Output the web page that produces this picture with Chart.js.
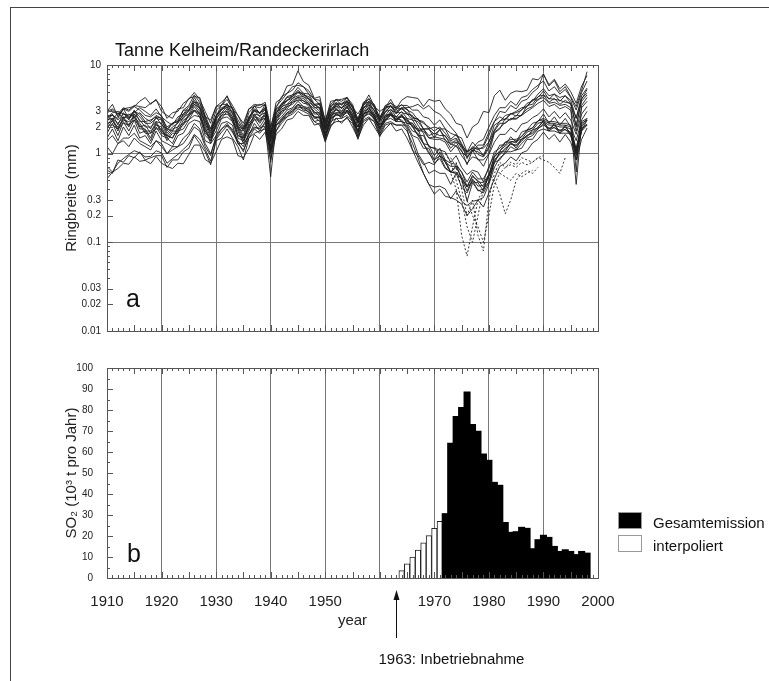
<!DOCTYPE html>
<html>
<head>
<meta charset="utf-8">
<title>Tanne Kelheim/Randeckerirlach</title>
<script src="https://cdn.jsdelivr.net/npm/chart.js@4.4.0/dist/chart.umd.min.js"></script>
<style>
    body { margin: 0; background: #fff; }
    #wrap { position: relative; width: 769px; height: 681px; overflow: hidden; }
    #frame { position: absolute; left: 10px; top: 7px; width: 770px; height: 690px;
             border-top: 1.5px solid #444; border-left: 1.5px solid #444; }
    canvas { position: absolute; left: 0; }
    #ringChart { top: 0; }
    #so2Chart { top: 340px; }
</style>
</head>
<body>
<div id="wrap">
    <div id="frame"></div>
    <canvas id="ringChart" width="769" height="345" style="width:769px;height:345px"></canvas>
    <canvas id="so2Chart" width="769" height="341" style="width:769px;height:341px"></canvas>
</div>
<script>
// ---- Daten: Jahrringbreiten (mm), 1910-1998, eine Reihe pro Baum ----
const ringYears = [];
for (let y = 1910; y <= 1998; y++) ringYears.push(y);

const tree01 = [
    3.0, 3.6, 2.6, 3.2, 3.3, 3.4, 3.9, 4.3, 3.6, 4.1,
    3.0, 2.7, 2.5, 3.2, 3.3, 4.2, 4.4, 4.3, 2.6, 2.4,
    3.4, 3.5, 4.5, 3.2, 2.7, 2.0, 3.2, 3.4, 3.6, 3.5,
    1.9, 3.8, 4.2, 5.8, 6.0, 8.6, 6.5, 5.9, 4.2, 4.4,
    2.3, 3.9, 4.0, 4.1, 4.3, 3.3, 2.8, 3.6, 4.6, 3.4,
    3.0, 3.3, 4.1, 3.2, 4.0, 4.4, 4.3, 4.2, 3.4, 4.1,
    3.9, 4.0, 3.2, 2.8, 2.2, 2.1, 1.5, 2.0, 2.2, 3.0,
    2.9, 4.5, 5.2, 4.0, 4.8, 5.1, 5.0, 5.2, 7.0, 6.8,
    7.9, 5.8, 6.7, 5.0, 5.7, 4.4, 3.4, 5.2, 8.4
];
const tree02 = [
    2.7, 2.7, 2.5, 3.2, 2.5, 3.0, 2.8, 2.3, 2.4, 2.6,
    2.5, 1.8, 2.2, 2.3, 3.1, 3.1, 4.3, 3.4, 2.6, 1.7,
    2.6, 3.6, 3.6, 3.2, 2.0, 1.9, 2.4, 3.5, 2.8, 3.6,
    1.5, 3.2, 3.6, 4.4, 4.6, 5.6, 4.8, 4.7, 3.6, 3.7,
    2.0, 3.5, 3.7, 3.7, 3.9, 3.5, 2.2, 3.7, 3.8, 3.5,
    2.3, 3.4, 3.4, 3.3, 3.2, 3.2, 2.5, 2.5, 1.9, 1.9,
    1.5, 1.9, 1.4, 1.3, 1.2, 1.1, 0.75, 1.1, 0.85, 0.85,
    1.0, 1.7, 1.9, 2.5, 2.4, 2.7, 2.7, 3.5, 3.6, 4.4,
    4.6, 4.2, 4.1, 4.0, 3.8, 3.7, 2.0, 4.2, 4.8
];
const tree03 = [
    1.9, 2.4, 1.8, 2.5, 2.0, 2.6, 1.9, 1.9, 1.5, 2.2,
    1.7, 1.6, 1.5, 1.9, 2.1, 2.7, 3.0, 2.8, 1.7, 1.5,
    2.0, 2.7, 2.8, 2.5, 1.6, 1.5, 1.9, 2.7, 2.2, 2.7,
    1.2, 2.5, 2.8, 3.4, 3.6, 4.2, 3.7, 3.6, 2.8, 2.8,
    1.6, 2.7, 2.9, 2.9, 3.1, 2.7, 1.7, 2.8, 3.0, 2.7,
    1.8, 2.6, 2.7, 2.5, 2.4, 2.0, 1.5, 1.0, 0.8, 0.6,
    0.65, 0.6, 0.6, 0.45, 0.6, 0.42, 0.36, 0.5, 0.38, 0.4,
    0.48, 0.8, 0.85, 1.05, 1.05, 1.1, 1.15, 1.45, 1.45, 1.8,
    1.9, 1.8, 1.8, 1.7, 1.7, 1.7, 0.85, 1.9, 2.1
];
const tree04 = [
    0.65, 0.6, 0.85, 0.8, 0.95, 0.9, 1.05, 0.85, 0.9, 0.95,
    0.95, 0.7, 0.85, 0.85, 1.05, 1.15, 1.6, 1.3, 1.05, 0.75,
    1.4, 1.5, 1.9, 1.5, 1.2, 0.85, 1.5, 1.7, 1.8, 1.9,
    1.05, 1.8, 2.4, 2.6, 3.1, 3.3, 3.3, 2.9, 2.6, 2.3,
    1.6, 2.2, 2.9, 2.5, 3.1, 2.3, 1.8, 2.5, 3.1, 2.4,
    2.0, 2.3, 2.8, 2.3, 2.7, 2.2, 2.1, 1.6, 1.6, 1.2,
    1.15, 1.1, 1.05, 0.8, 0.95, 0.7, 0.58, 0.65, 0.62, 0.48,
    0.72, 0.95, 1.25, 1.25, 1.55, 1.35, 1.75, 1.85, 2.2, 2.3,
    2.8, 2.2, 2.6, 2.1, 2.5, 2.0, 1.4, 2.4, 3.0
];
const tree05 = [
    0.52, 0.62, 0.68, 0.78, 0.76, 0.92, 0.82, 0.84, 0.77, 0.93,
    0.78, 0.72, 0.68, 0.78, 0.77, 0.98, 1.25, 1.25, 0.86, 0.78,
    1.05, 1.45, 1.55, 1.45, 0.95, 0.9, 1.15, 1.65, 1.45, 1.75,
    0.85, 1.65, 1.9, 2.4, 2.5, 3.0, 2.7, 2.7, 2.1, 2.2,
    1.35, 2.1, 2.3, 2.3, 2.5, 2.2, 1.45, 2.3, 2.5, 2.3,
    1.55, 2.1, 2.2, 2.1, 2.1, 1.8, 1.3, 0.9, 0.6, 0.45,
    0.42, 0.43, 0.4, 0.31, 0.38, 0.29, 0.26, 0.29, 0.3, 0.25,
    0.36, 0.52, 0.72, 0.78, 0.92, 0.83, 1.02, 1.08, 1.32, 1.45,
    1.75, 1.45, 1.65, 1.35, 1.65, 1.35, 0.85, 1.45, 1.95
];
const tree06 = [
    0.72, 0.62, 0.78, 0.88, 0.98, 1.08, 1.02, 0.92, 0.93, 1.08,
    1.02, 0.78, 0.88, 0.98, 1.12, 1.28, 1.65, 1.45, 1.12, 0.82,
    1.45, 1.75, 2.05, 1.75, 1.35, 1.05, 1.65, 1.95, 1.95, 2.05,
    0.55, 2.1, 2.4, 2.9, 3.0, 3.6, 3.2, 3.2, 2.5, 2.6,
    1.55, 2.5, 2.8, 2.8, 3.0, 2.6, 1.75, 2.8, 3.0, 2.7,
    1.9, 2.7, 2.8, 2.6, 2.3, 1.9, 1.1, 0.95, 0.75, 0.8,
    0.75, 0.95, 0.7, 0.62, 0.62, 0.52, 0.38, 0.52, 0.43, 0.44,
    0.58, 0.92, 1.08, 1.22, 1.38, 1.32, 1.58, 1.82, 1.95, 2.35,
    2.5, 2.3, 2.3, 2.2, 2.2, 2.1, 0.45, 2.1, 2.5
];
const tree07 = [
    2.9, 3.1, 2.7, 3.2, 3.0, 3.4, 3.1, 2.7, 2.6, 2.9,
    2.7, 1.9, 2.2, 2.4, 3.1, 3.5, 4.6, 3.8, 2.7, 1.9,
    3.1, 3.5, 4.1, 3.2, 2.4, 1.9, 2.9, 3.4, 3.3, 3.6,
    1.7, 3.4, 4.0, 4.8, 5.2, 6.3, 5.7, 5.1, 4.1, 4.0,
    2.3, 3.6, 4.1, 3.9, 4.3, 3.6, 2.4, 3.8, 4.1, 3.6,
    2.5, 3.5, 3.7, 3.4, 3.5, 3.5, 3.1, 3.1, 2.6, 2.5,
    2.1, 2.4, 1.9, 1.7, 1.6, 1.5, 1.05, 1.35, 1.15, 1.15,
    1.35, 2.1, 2.3, 2.7, 2.8, 2.9, 3.1, 3.7, 3.9, 4.7,
    5.4, 4.5, 4.7, 4.3, 4.5, 4.0, 2.5, 4.5, 5.5
];
const tree08 = [
    2.4, 2.5, 2.2, 2.6, 2.5, 2.8, 2.4, 2.0, 2.0, 2.3,
    2.2, 1.6, 1.9, 2.0, 2.6, 2.8, 3.6, 3.0, 2.2, 1.5,
    2.5, 2.9, 3.4, 2.6, 2.0, 1.5, 2.4, 2.8, 2.7, 2.9,
    1.6, 2.6, 3.4, 3.6, 4.2, 4.5, 4.4, 3.8, 3.4, 3.0,
    2.1, 2.8, 3.5, 3.0, 3.7, 2.8, 2.2, 3.0, 3.6, 2.8,
    2.3, 2.7, 3.2, 2.6, 3.0, 2.5, 2.4, 1.9, 1.9, 1.5,
    1.45, 1.45, 1.35, 1.05, 1.25, 0.95, 0.78, 0.92, 0.88, 0.72,
    0.98, 1.35, 1.65, 1.65, 1.95, 1.75, 2.15, 2.25, 2.55, 2.75,
    3.2, 2.6, 3.0, 2.5, 2.9, 2.4, 1.65, 2.8, 3.4
];
const tree09 = [
    1.7, 2.2, 1.6, 2.3, 1.8, 2.4, 1.7, 1.8, 1.4, 2.0,
    1.6, 1.5, 1.3, 1.8, 1.9, 2.4, 2.7, 2.6, 1.6, 1.4,
    1.8, 2.5, 2.6, 2.3, 1.5, 1.4, 1.8, 2.5, 2.0, 2.5,
    1.15, 2.3, 2.6, 3.1, 3.3, 3.9, 3.4, 3.3, 2.6, 2.6,
    1.5, 2.5, 2.7, 2.7, 2.9, 2.5, 1.6, 2.6, 2.8, 2.5,
    1.7, 2.4, 2.5, 2.3, 2.3, 2.2, 1.8, 1.7, 1.3, 1.25,
    0.95, 1.15, 0.85, 0.78, 0.76, 0.62, 0.43, 0.57, 0.48, 0.47,
    0.58, 0.92, 1.05, 1.35, 1.45, 1.45, 1.55, 1.85, 1.95, 2.35,
    2.4, 2.2, 2.2, 2.1, 2.1, 2.0, 1.05, 2.3, 2.5
];
const tree10 = [
    2.2, 2.3, 2.0, 2.4, 2.3, 2.6, 2.2, 1.8, 1.8, 2.1,
    2.0, 1.5, 1.8, 1.8, 2.4, 2.6, 3.4, 2.8, 2.0, 1.4,
    2.3, 2.7, 3.2, 2.4, 1.9, 1.4, 2.2, 2.6, 2.5, 2.7,
    1.45, 2.4, 3.2, 3.4, 4.0, 4.3, 4.2, 3.6, 3.2, 2.8,
    1.9, 2.6, 3.3, 2.8, 3.5, 2.6, 2.0, 2.8, 3.4, 2.6,
    2.1, 2.5, 3.0, 2.4, 2.8, 2.3, 2.2, 1.8, 1.9, 1.6,
    1.7, 1.6, 1.6, 1.25, 1.45, 1.15, 1.05, 1.15, 1.35, 1.45,
    2.0, 2.7, 3.3, 3.3, 3.9, 3.5, 4.3, 4.5, 5.3, 5.9,
    6.6, 5.1, 5.7, 4.7, 5.3, 4.3, 3.1, 4.9, 6.6
];
const tree11 = [
    2.6, 2.7, 2.4, 2.8, 2.7, 3.0, 2.6, 2.2, 2.2, 2.5,
    2.4, 1.7, 2.0, 2.2, 2.8, 3.1, 4.0, 3.3, 2.4, 1.6,
    2.7, 3.1, 3.7, 2.8, 2.1, 1.6, 2.6, 3.0, 2.9, 3.1,
    1.7, 2.8, 3.7, 3.9, 4.6, 4.9, 4.8, 4.1, 3.6, 3.2,
    2.2, 3.0, 3.8, 3.2, 4.0, 3.0, 2.3, 3.2, 3.9, 3.0,
    2.4, 2.9, 3.5, 2.8, 3.3, 2.8, 2.7, 2.1, 1.7, 1.2,
    1.15, 0.95, 0.85, 0.62, 0.73, 0.52, 0.42, 0.48, 0.47, 0.38,
    0.57, 0.78, 1.05, 1.05, 1.35, 1.15, 1.45, 1.55, 1.85, 1.95,
    2.4, 1.8, 2.2, 1.7, 2.1, 1.6, 1.05, 1.8, 2.4
];
const tree12 = [
    2.3, 2.8, 2.1, 2.9, 2.4, 3.1, 2.3, 2.3, 1.9, 2.6,
    2.1, 1.9, 1.8, 2.3, 2.5, 3.1, 3.6, 3.3, 2.1, 1.8,
    2.4, 3.2, 3.3, 2.9, 1.9, 1.8, 2.3, 3.1, 2.6, 3.2,
    1.4, 2.9, 3.3, 4.0, 4.2, 4.9, 4.4, 4.1, 3.3, 3.3,
    1.9, 3.1, 3.4, 3.3, 3.6, 3.1, 2.0, 3.3, 3.5, 3.1,
    2.1, 3.0, 3.1, 2.9, 2.9, 2.8, 2.4, 2.3, 1.9, 1.9,
    1.65, 1.85, 1.55, 1.35, 1.35, 1.25, 0.88, 1.15, 0.98, 0.92,
    1.15, 1.75, 1.95, 2.25, 2.45, 2.45, 2.75, 3.2, 3.4, 4.1,
    4.3, 3.7, 3.8, 3.5, 3.6, 3.3, 0.62, 3.5, 4.3
];
const tree13 = [
    1.5, 1.9, 1.4, 2.0, 1.6, 2.1, 1.5, 1.6, 1.3, 1.8,
    1.4, 1.3, 1.2, 1.6, 1.7, 2.2, 2.4, 2.3, 1.4, 1.3,
    1.6, 2.2, 2.3, 2.1, 1.3, 1.3, 1.6, 2.2, 1.8, 2.3,
    1.05, 2.1, 2.3, 2.8, 2.9, 3.5, 3.1, 3.0, 2.3, 2.4,
    1.45, 2.3, 2.5, 2.5, 2.7, 2.3, 1.55, 2.4, 2.6, 2.3,
    1.65, 2.2, 2.3, 2.1, 2.1, 2.1, 1.6, 1.5, 1.15, 1.15,
    0.85, 1.05, 0.8, 0.72, 0.72, 0.62, 0.48, 0.62, 0.52, 0.52,
    0.68, 1.05, 1.15, 1.35, 1.35, 1.4, 1.45, 1.75, 1.85, 2.2,
    2.3, 2.1, 2.1, 2.0, 2.0, 1.9, 1.15, 2.2, 2.4
];
const tree14 = [
    3.0, 3.2, 2.8, 3.3, 3.1, 3.5, 3.4, 3.3, 3.7, 4.0,
    3.4, 2.5, 2.9, 3.0, 3.7, 4.1, 4.9, 4.1, 3.0, 2.2,
    3.4, 3.8, 4.4, 3.5, 2.7, 2.2, 3.2, 3.6, 3.5, 3.8,
    2.0, 3.3, 4.4, 4.8, 5.7, 5.9, 5.7, 4.7, 4.1, 3.6,
    2.4, 3.3, 4.1, 3.5, 4.3, 3.3, 2.5, 3.5, 4.2, 3.3,
    2.6, 3.2, 3.8, 3.1, 3.6, 3.1, 2.9, 2.4, 2.3, 1.9,
    2.0, 1.9, 1.9, 1.45, 1.65, 1.25, 1.05, 1.15, 1.15, 0.95,
    1.35, 1.85, 2.35, 2.45, 2.85, 2.65, 3.15, 3.4, 4.0, 4.3,
    5.1, 4.1, 4.7, 3.9, 4.5, 3.7, 2.5, 4.1, 5.3
];
const tree15 = [
    2.1, 2.5, 1.9, 2.6, 2.1, 2.8, 2.0, 2.1, 1.7, 2.3,
    1.8, 1.6, 1.5, 2.0, 2.2, 2.8, 3.1, 2.9, 1.8, 1.5,
    2.1, 2.9, 3.0, 2.6, 1.6, 1.5, 2.0, 2.8, 2.3, 2.9,
    0.8, 2.6, 3.0, 3.6, 3.8, 4.4, 3.9, 3.7, 2.9, 2.9,
    1.7, 2.8, 3.1, 3.0, 3.3, 2.8, 1.8, 3.0, 3.2, 2.8,
    1.9, 2.7, 2.8, 2.6, 2.6, 2.5, 2.0, 1.9, 1.3, 1.05,
    0.78, 0.88, 0.68, 0.62, 0.6, 0.52, 0.29, 0.47, 0.39, 0.36,
    0.48, 0.82, 0.98, 1.12, 1.28, 1.22, 1.38, 1.62, 1.68, 1.92,
    2.1, 1.95, 1.95, 1.85, 1.85, 1.75, 0.95, 1.95, 2.15
];
const tree16 = [
    2.1, 2.1, 1.9, 2.2, 2.1, 2.4, 2.1, 1.7, 1.7, 1.9,
    1.9, 1.4, 1.7, 1.7, 2.2, 2.4, 3.1, 2.6, 1.9, 1.3,
    2.2, 2.5, 3.0, 2.3, 1.8, 1.3, 2.1, 2.4, 2.4, 2.5,
    1.35, 2.2, 3.0, 3.2, 3.8, 4.0, 4.0, 3.4, 3.0, 2.6,
    1.85, 2.5, 3.2, 2.7, 3.4, 2.5, 2.0, 2.7, 3.3, 2.5,
    2.1, 2.4, 2.9, 2.3, 2.7, 2.2, 2.2, 1.8, 1.8, 1.5,
    1.55, 1.5, 1.45, 1.15, 1.35, 1.05, 0.92, 1.05, 1.25, 1.25,
    1.75, 2.3, 3.0, 2.9, 3.5, 3.2, 3.9, 4.1, 4.9, 5.5,
    7.9, 6.0, 6.9, 5.4, 6.1, 5.0, 3.7, 5.8, 7.6
];
const tree17 = [
    1.4, 1.6, 1.3, 1.5, 1.5, 1.7, 1.4, 1.3, 1.2, 1.4,
    1.3, 1.0, 1.2, 1.2, 1.5, 1.7, 2.2, 1.9, 1.3, 1.0,
    1.5, 1.9, 2.2, 1.8, 1.3, 1.1, 1.5, 1.9, 1.7, 2.0,
    1.0, 1.8, 2.2, 2.6, 2.8, 3.2, 3.0, 2.8, 2.3, 2.1,
    1.4, 2.0, 2.5, 2.2, 2.6, 2.0, 1.5, 2.1, 2.5, 2.0,
    1.6, 1.9, 2.2, 1.8, 1.9, 1.5, 1.1, 0.8, 0.6, 0.45,
    0.35, 0.4, 0.33, 0.32, 0.3, 0.27, 0.2, 0.24, 0.3, 0.32,
    0.45, 0.7, 0.9, 1.0, 1.2, 1.1, 1.3, 1.5, 1.6, 1.9,
    2.2, 1.8, 2.0, 1.7, 1.9, 1.6, 1.0, 1.8, 2.1
];
const tree18 = [
    2.5, 2.9, 3.0, 2.8, 2.6, 2.9, 3.3, 3.0, 2.7, 3.2,
    2.6, 2.3, 2.1, 2.6, 2.8, 3.4, 3.8, 3.7, 2.5, 1.9,
    2.6, 3.3, 3.5, 3.3, 2.2, 1.9, 2.5, 3.2, 2.9, 3.3,
    1.6, 3.1, 3.5, 4.3, 4.4, 5.2, 4.6, 4.4, 3.5, 3.6,
    1.9, 3.2, 3.6, 3.6, 3.8, 3.4, 2.3, 3.5, 3.9, 3.4,
    2.4, 3.2, 3.5, 3.0, 3.3, 3.3, 3.4, 3.6, 3.2, 3.5,
    3.0, 2.8, 2.4, 2.0, 1.7, 1.3, 1.0, 1.2, 1.1, 1.2,
    1.6, 2.3, 2.6, 2.4, 2.8, 3.0, 3.3, 3.4, 4.1, 4.0,
    4.6, 3.8, 4.2, 3.6, 4.0, 3.6, 2.1, 3.9, 4.6
];
const tree19 = [
    1.2, 1.0, 1.3, 1.4, 1.2, 1.5, 1.3, 1.2, 1.1, 1.4,
    1.2, 1.0, 1.1, 1.2, 1.3, 1.6, 2.0, 1.8, 1.2, 0.95,
    1.6, 1.9, 2.1, 1.9, 1.4, 1.2, 1.7, 2.0, 1.9, 2.2,
    1.1, 2.1, 2.5, 2.9, 3.2, 3.6, 3.4, 3.1, 2.6, 2.5,
    1.7, 2.4, 2.8, 2.6, 3.0, 2.4, 1.8, 2.6, 2.9, 2.5,
    1.9, 2.4, 2.7, 2.4, 2.6, 2.4, 2.0, 1.6, 1.3, 1.0,
    0.85, 0.95, 0.8, 0.62, 0.7, 0.55, 0.42, 0.55, 0.5, 0.42,
    0.55, 0.85, 1.0, 1.15, 1.3, 1.25, 1.45, 1.6, 1.75, 2.0,
    2.3, 1.9, 2.1, 1.8, 2.0, 1.7, 1.1, 2.0, 2.4
];
const tree20 = [
    2.6, 2.4, 2.9, 2.5, 2.8, 2.6, 2.9, 2.5, 2.3, 2.7,
    2.5, 2.0, 2.2, 2.3, 2.7, 3.0, 3.8, 3.2, 2.3, 1.8,
    2.7, 3.1, 3.5, 3.0, 2.2, 1.8, 2.6, 3.1, 2.9, 3.3,
    1.7, 2.9, 3.5, 4.0, 4.4, 5.0, 4.6, 4.2, 3.6, 3.3,
    2.2, 3.0, 3.6, 3.3, 3.8, 3.1, 2.3, 3.3, 3.7, 3.1,
    2.5, 3.0, 3.4, 2.9, 3.2, 2.9, 2.6, 2.4, 2.2, 2.0,
    1.8, 2.0, 1.7, 1.4, 1.5, 1.2, 0.95, 1.1, 1.05, 0.95,
    1.2, 1.8, 2.2, 2.2, 2.5, 2.5, 2.7, 3.0, 3.3, 3.7,
    4.0, 3.4, 3.6, 3.2, 3.4, 3.1, 1.8, 3.3, 3.9
];
const ringTrees = [tree01, tree02, tree03, tree04, tree05, tree06, tree07, tree08, tree09, tree10,
                   tree11, tree12, tree13, tree14, tree15, tree16, tree17, tree18, tree19, tree20];

// gestrichelte Reihen (Bäume mit starkem Einbruch), mit Startjahr
const dashStart = [1970, 1972, 1973, 1974];
const dash01 = [1.2, 1.0, 0.8, 0.6, 0.4, 0.12, 0.07, 0.15, 0.3, 0.4, 0.55, 0.7, 0.6, 0.7, 0.8, 0.75, 0.9, 0.85, 0.8, 0.9, 0.95];
const dash02 = [1.0, 0.8, 0.5, 0.3, 0.15, 0.1, 0.2, 0.4, 0.6, 0.5, 0.35, 0.21, 0.3, 0.5, 0.6, 0.65, 0.6, 0.7];
const dash03 = [0.9, 0.7, 0.4, 0.2, 0.3, 0.12, 0.08, 0.3, 0.6, 0.8, 0.7, 0.75, 0.7, 0.8, 0.75, 0.8, 0.9, 0.85, 0.8, 0.7, 0.6, 0.9];
const dash04 = [0.8, 0.5, 0.3, 0.2, 0.15, 0.1, 0.2, 0.45, 0.6, 0.55, 0.5, 0.6, 0.55, 0.6, 0.65];
const ringDashed = [dash01, dash02, dash03, dash04];

const ringTickValues = [0.01, 0.02, 0.03, 0.1, 0.2, 0.3, 1, 2, 3, 10];

// ---- Daten: SO2-Emission (10^3 t pro Jahr) ----
const interpYears = [1964, 1965, 1966, 1967, 1968, 1969, 1970, 1971];
const so2Interp = [3.5, 6.7, 10, 13.3, 16.8, 20.2, 23.7, 27];
const totalYears = [1972, 1973, 1974, 1975, 1976, 1977, 1978, 1979, 1980, 1981,
                    1982, 1983, 1984, 1985, 1986, 1987, 1988, 1989, 1990, 1991,
                    1992, 1993, 1994, 1995, 1996, 1997, 1998];
const so2Total = [30.5, 64, 76.8, 81, 88.4, 72.9, 69.7, 58.9, 55.9, 45.4,
                  44, 26.3, 21.6, 21.9, 24, 23.5, 13.8, 18.1, 20.2, 19.2,
                  14.9, 12.5, 13.3, 12.5, 11, 12.5, 11.7];

const xLabels = [1910, 1920, 1930, 1940, 1950, 1970, 1980, 1990, 2000];

Chart.defaults.font.family = '"Liberation Sans", Arial, Helvetica, sans-serif';
Chart.defaults.color = '#222';

const FONT = '"Liberation Sans", Arial, Helvetica, sans-serif';
const GRID = '#777';

// Rahmen und Innen-Ticks (wie im Original nach innen gerichtet)
function drawFrameTicks(chart, yMajor, yMinor) {
    const { ctx, chartArea: a, scales } = chart;
    ctx.save();
    ctx.strokeStyle = '#555';
    ctx.lineWidth = 1;
    ctx.strokeRect(Math.round(a.left) + 0.5, Math.round(a.top) + 0.5,
                   Math.round(a.width), Math.round(a.height));
    ctx.beginPath();
    for (let yr = 1910; yr <= 2000; yr++) {
        const px = Math.round(scales.x.getPixelForValue(yr)) + 0.5;
        const len = yr % 5 === 0 ? 6 : 3;
        ctx.moveTo(px, a.top); ctx.lineTo(px, a.top + len);
        ctx.moveTo(px, a.bottom); ctx.lineTo(px, a.bottom - len);
    }
    yMajor.forEach(v => {
        const py = Math.round(scales.y.getPixelForValue(v)) + 0.5;
        ctx.moveTo(a.left, py); ctx.lineTo(a.left + 6, py);
    });
    yMinor.forEach(v => {
        const py = Math.round(scales.y.getPixelForValue(v)) + 0.5;
        ctx.moveTo(a.left, py); ctx.lineTo(a.left + 3, py);
    });
    ctx.stroke();
    ctx.restore();
}

// ---- oberes Diagramm: Ringbreiten ----
const ringDatasets = ringTrees.map(vals => ({
    data: vals.map((v, i) => ({ x: ringYears[i], y: v })),
    borderColor: '#1e1e1e',
    borderWidth: 0.9,
    pointRadius: 0,
    fill: false,
    tension: 0
})).concat(ringDashed.map((vals, k) => ({
    data: vals.map((v, i) => ({ x: dashStart[k] + i, y: v })),
    borderColor: '#1e1e1e',
    borderWidth: 0.9,
    borderDash: [2, 2],
    pointRadius: 0,
    fill: false,
    tension: 0
})));

const logMinor = [];
[0.01, 0.1, 1].forEach(d => {
    for (let m = 1; m <= 9; m++) logMinor.push(d * m);
});

const ringPanel = {
    id: 'ringPanel',
    afterDatasetsDraw(chart) {
        drawFrameTicks(chart, ringTickValues, logMinor);
        const { ctx, chartArea: a } = chart;
        ctx.save();
        ctx.fillStyle = '#111';
        ctx.textBaseline = 'alphabetic';
        ctx.font = '18px ' + FONT;
        ctx.fillText('Tanne Kelheim/Randeckerirlach', 115, 56);
        ctx.font = '25px ' + FONT;
        ctx.fillText('a', a.left + 19, a.bottom - 24);
        ctx.restore();
    }
};

new Chart(document.getElementById('ringChart'), {
    type: 'line',
    data: { datasets: ringDatasets },
    options: {
        responsive: false,
        animation: false,
        layout: { padding: { left: 63, right: 171, top: 65, bottom: 14 } },
        plugins: { legend: { display: false }, tooltip: { enabled: false } },
        scales: {
            x: {
                type: 'linear', min: 1910, max: 2000,
                ticks: { display: false, stepSize: 10 },
                grid: { color: GRID, lineWidth: 1, drawTicks: false },
                border: { display: false }
            },
            y: {
                type: 'logarithmic', min: 0.01, max: 10,
                afterBuildTicks: s => { s.ticks = ringTickValues.map(v => ({ value: v })); },
                afterFit: s => { s.width = 44; },
                ticks: { font: { size: 10 }, padding: 6, autoSkip: false, callback: v => String(v) },
                grid: {
                    drawTicks: false,
                    color: c => (c.tick && (c.tick.value === 1 || c.tick.value === 0.1)) ? GRID : 'rgba(0,0,0,0)'
                },
                border: { display: false },
                title: { display: true, text: 'Ringbreite (mm)', font: { size: 15 }, padding: { top: 0, bottom: 0 } }
            }
        }
    },
    plugins: [ringPanel]
});

// ---- unteres Diagramm: SO2 ----
const so2Major = [0, 10, 20, 30, 40, 50, 60, 70, 80, 90, 100];
const so2Minor = [5, 15, 25, 35, 45, 55, 65, 75, 85, 95];

const so2Panel = {
    id: 'so2Panel',
    afterDatasetsDraw(chart) {
        drawFrameTicks(chart, so2Major, so2Minor);
        const { ctx, chartArea: a, scales } = chart;
        ctx.save();
        ctx.fillStyle = '#111';
        ctx.strokeStyle = '#111';
        ctx.font = '25px ' + FONT;
        ctx.fillText('b', a.left + 20, a.bottom - 16);

        // Pfeil: Inbetriebnahme 1963
        const px = Math.round(scales.x.getPixelForValue(1963)) + 0.5;
        ctx.lineWidth = 1;
        ctx.beginPath();
        ctx.moveTo(px, a.bottom + 20);
        ctx.lineTo(px, a.bottom + 60);
        ctx.stroke();
        ctx.beginPath();
        ctx.moveTo(px, a.bottom + 12);
        ctx.lineTo(px - 3, a.bottom + 22);
        ctx.lineTo(px + 3, a.bottom + 22);
        ctx.closePath();
        ctx.fill();
        ctx.font = '15px ' + FONT;
        ctx.fillText('1963: Inbetriebnahme', px - 18, a.bottom + 86);

        // Legende
        const lx = a.right + 20;
        chart.data.datasets.forEach((ds, i) => {
            const ly = a.top + 144 + i * 23;
            ctx.fillStyle = ds.backgroundColor;
            ctx.fillRect(lx, ly, 24, 17);
            ctx.strokeStyle = '#999';
            ctx.strokeRect(lx + 0.5, ly + 0.5, 23, 16);
            ctx.fillStyle = '#111';
            ctx.fillText(ds.label, lx + 35, ly + 16);
        });
        ctx.restore();
    }
};

new Chart(document.getElementById('so2Chart'), {
    type: 'bar',
    data: {
        datasets: [
            {
                label: 'Gesamtemission',
                data: totalYears.map((y, i) => ({ x: y, y: so2Total[i] })),
                backgroundColor: '#000',
                borderColor: '#000',
                borderWidth: 0,
                inflateAmount: 0.8,
                grouped: false,
                barPercentage: 1,
                categoryPercentage: 1
            },
            {
                label: 'interpoliert',
                data: interpYears.map((y, i) => ({ x: y, y: so2Interp[i] })),
                backgroundColor: '#fff',
                borderColor: '#222',
                borderWidth: 1,
                grouped: false,
                barPercentage: 1,
                categoryPercentage: 1
            }
        ]
    },
    options: {
        responsive: false,
        animation: false,
        layout: { padding: { left: 63, right: 171, top: 28, bottom: 51 } },
        plugins: { legend: { display: false }, tooltip: { enabled: false } },
        scales: {
            x: {
                type: 'linear', min: 1910, max: 2000, offset: false,
                afterFit: s => { s.height = 52; },
                ticks: {
                    stepSize: 10, padding: 15, font: { size: 15 }, maxRotation: 0, autoSkip: false,
                    callback: v => xLabels.includes(v) ? String(v) : ''
                },
                grid: { color: GRID, lineWidth: 1, drawTicks: false, offset: false },
                border: { display: false },
                title: { display: true, text: 'year', font: { size: 15 }, padding: { top: 0, bottom: 0 } }
            },
            y: {
                min: 0, max: 100,
                afterFit: s => { s.width = 44; },
                ticks: { stepSize: 10, font: { size: 10 }, padding: 6 },
                grid: { display: false },
                border: { display: false },
                title: { display: true, text: 'SO\u2082 (10\u00B3 t pro Jahr)', font: { size: 15 }, padding: { top: 0, bottom: 0 } }
            }
        }
    },
    plugins: [so2Panel]
});
</script>
</body>
</html>
